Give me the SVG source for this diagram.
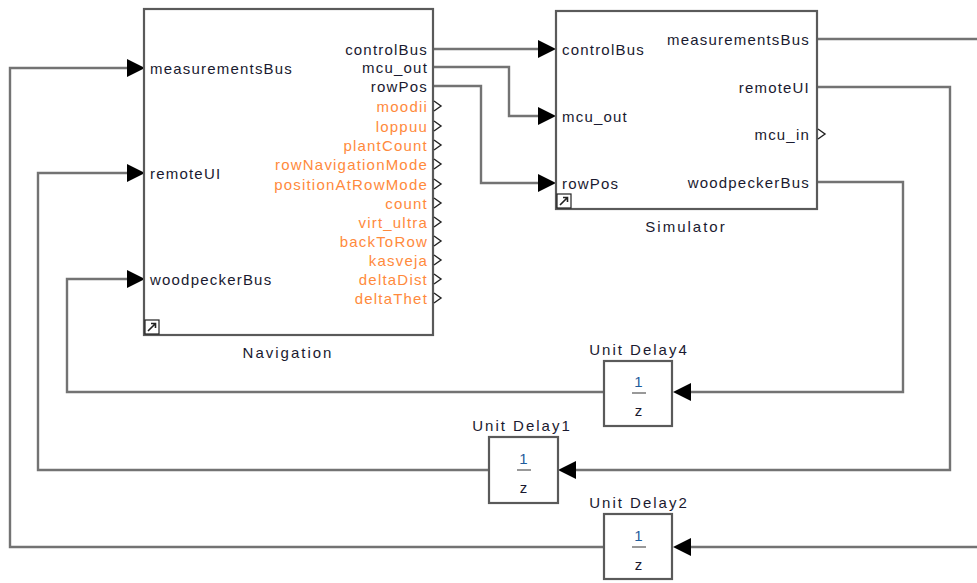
<svg xmlns="http://www.w3.org/2000/svg" width="977" height="583" viewBox="0 0 977 583">
  <style>
    .blk { fill: #fff; stroke: #5a5a5a; stroke-width: 2.2; }
    .wire { fill: none; stroke: #737373; stroke-width: 2.4; stroke-linejoin: miter; }
    .lbl { font-family: "Liberation Sans", Arial, sans-serif; font-size: 15px; letter-spacing: 1.2px; fill: #1a1a30; }
    .name { letter-spacing: 2px; }
    .out { fill: #ff8a3c; }
    .end { text-anchor: end; }
    .mid { text-anchor: middle; }
    .num { fill: #1f5c9c; }
    .chev { fill: none; stroke: #222; stroke-width: 1.4; }
    .head { fill: #000; }
    .icon { fill: #fff; stroke: #222; stroke-width: 1.2; }
  </style>

  <!-- connectors -->
  <g id="connectors">
    <path class="wire" d="M433,49 H540"/>
    <path class="wire" d="M433,67 H509 V116 H540"/>
    <path class="wire" d="M433,86 H481 V183 H540"/>
    <path class="wire" d="M817,39 H977"/>
    <path class="wire" d="M817,87 H950 V470 H574"/>
    <path class="wire" d="M817,182 H903 V392 H688"/>
    <path class="wire" d="M977,547 H688"/>
    <path class="wire" d="M604,392 H67 V279 H128"/>
    <path class="wire" d="M489,470 H38 V173 H128"/>
    <path class="wire" d="M604,547 H10 V68 H128"/>
    <!-- arrowheads -->
    <polygon class="head" points="127,59 145,68 127,77"/>
    <polygon class="head" points="127,164 145,173 127,182"/>
    <polygon class="head" points="127,270 145,279 127,288"/>
    <polygon class="head" points="538,40 556,49 538,58"/>
    <polygon class="head" points="538,107 556,116 538,125"/>
    <polygon class="head" points="538,174 556,183 538,192"/>
    <polygon class="head" points="691,383 673,392 691,401"/>
    <polygon class="head" points="576,461 558,470 576,479"/>
    <polygon class="head" points="691,538 673,547 691,556"/>
  </g>

  <!-- Navigation subsystem -->
  <g id="navigation">
    <rect class="blk" x="144" y="9" width="289" height="326"/>
    <rect class="icon" x="145" y="320" width="14" height="14"/>
    <path d="M148,331 L155,324 M151,323.5 H155.5 V328" fill="none" stroke="#222" stroke-width="1.6"/>
    <text class="lbl" x="150" y="74">measurementsBus</text>
    <text class="lbl" x="150" y="179">remoteUI</text>
    <text class="lbl" x="150" y="285">woodpeckerBus</text>
    <text class="lbl end" x="428" y="55">controlBus</text>
    <text class="lbl end" x="428" y="73">mcu_out</text>
    <text class="lbl end" x="428" y="92">rowPos</text>
    <g class="lbl out end">
      <text x="428" y="112">moodii</text>
      <text x="428" y="132">loppuu</text>
      <text x="428" y="151">plantCount</text>
      <text x="428" y="170">rowNavigationMode</text>
      <text x="428" y="190">positionAtRowMode</text>
      <text x="428" y="209">count</text>
      <text x="428" y="228">virt_ultra</text>
      <text x="428" y="247">backToRow</text>
      <text x="428" y="266">kasveja</text>
      <text x="428" y="285">deltaDist</text>
      <text x="428" y="304">deltaThet</text>
    </g>
    <g class="chev">
      <path d="M434,101 L441,106 L434,111"/>
      <path d="M434,121 L441,126 L434,131"/>
      <path d="M434,140 L441,145 L434,150"/>
      <path d="M434,159 L441,164 L434,169"/>
      <path d="M434,179 L441,184 L434,189"/>
      <path d="M434,198 L441,203 L434,208"/>
      <path d="M434,217 L441,222 L434,227"/>
      <path d="M434,236 L441,241 L434,246"/>
      <path d="M434,255 L441,260 L434,265"/>
      <path d="M434,274 L441,279 L434,284"/>
      <path d="M434,293 L441,298 L434,303"/>
    </g>
    <text class="lbl name mid" x="288" y="358">Navigation</text>
  </g>

  <!-- Simulator subsystem -->
  <g id="simulator">
    <rect class="blk" x="556" y="11" width="261" height="198"/>
    <rect class="icon" x="557" y="194" width="14" height="14"/>
    <path d="M560,205 L567,198 M563,197.5 H567.5 V202" fill="none" stroke="#222" stroke-width="1.6"/>
    <text class="lbl" x="562" y="55">controlBus</text>
    <text class="lbl" x="562" y="122">mcu_out</text>
    <text class="lbl" x="562" y="189">rowPos</text>
    <text class="lbl end" x="810" y="45">measurementsBus</text>
    <text class="lbl end" x="810" y="93">remoteUI</text>
    <text class="lbl end" x="810" y="140">mcu_in</text>
    <text class="lbl end" x="810" y="188">woodpeckerBus</text>
    <path class="chev" d="M818,129 L825,134 L818,139"/>
    <text class="lbl name mid" x="686" y="232">Simulator</text>
  </g>

  <!-- Unit Delay4 -->
  <g id="unit-delay4">
    <rect class="blk" x="604" y="361" width="68" height="65"/>
    <text class="lbl num mid" x="639" y="387">1</text>
    <line x1="632" y1="393" x2="646" y2="393" stroke="#777" stroke-width="1.5"/>
    <text class="lbl mid" x="639" y="416">z</text>
    <text class="lbl name mid" x="639" y="355">Unit Delay4</text>
  </g>

  <!-- Unit Delay1 -->
  <g id="unit-delay1">
    <rect class="blk" x="489" y="437" width="69" height="66"/>
    <text class="lbl num mid" x="524" y="464">1</text>
    <line x1="517" y1="470" x2="531" y2="470" stroke="#777" stroke-width="1.5"/>
    <text class="lbl mid" x="524" y="493">z</text>
    <text class="lbl name mid" x="522" y="431">Unit Delay1</text>
  </g>

  <!-- Unit Delay2 -->
  <g id="unit-delay2">
    <rect class="blk" x="604" y="514" width="68" height="65"/>
    <text class="lbl num mid" x="639" y="541">1</text>
    <line x1="632" y1="547" x2="646" y2="547" stroke="#777" stroke-width="1.5"/>
    <text class="lbl mid" x="639" y="570">z</text>
    <text class="lbl name mid" x="639" y="508">Unit Delay2</text>
  </g>
</svg>
